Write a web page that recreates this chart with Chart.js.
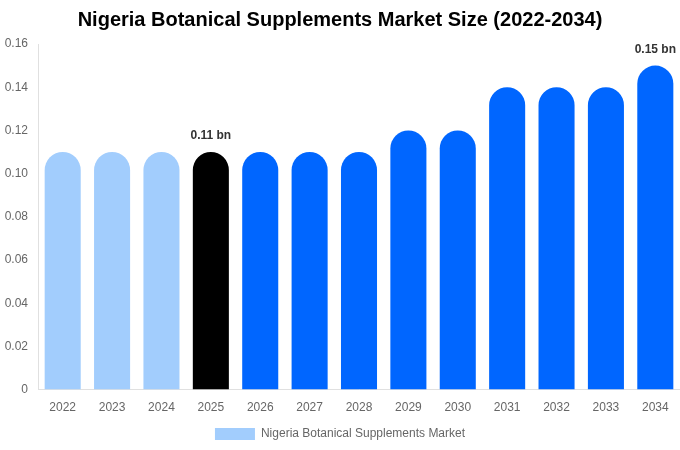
<!DOCTYPE html>
<html>
<head>
<meta charset="utf-8">
<script src="https://cdn.jsdelivr.net/npm/chart.js@4"></script>
<style>
  html, body { margin: 0; padding: 0; background: #fff; }
  #wrap { width: 680px; height: 450px; }
</style>
</head>
<body>
<div id="wrap"><canvas id="chart"></canvas></div>
<script>
// Data
const years = ['2022', '2023', '2024', '2025', '2026', '2027', '2028', '2029', '2030', '2031', '2032', '2033', '2034'];
const marketSize = [0.11, 0.11, 0.11, 0.11, 0.11, 0.11, 0.11, 0.12, 0.12, 0.14, 0.14, 0.14, 0.15];
const labelled = ['2025', '2034'];
const yTicks = [0, 0.02, 0.04, 0.06, 0.08, 0.10, 0.12, 0.14, 0.16];

const LIGHT = '#a2cdfd';
const BASE = '#000000';
const DARK = '#0066ff';

function barColor(year) {
  const y = Number(year);
  if (y < 2025) return LIGHT;
  if (y === 2025) return BASE;
  return DARK;
}

// value labels above selected bars
const valueLabels = {
  id: 'valueLabels',
  afterDatasetsDraw(c) {
    const ctx = c.ctx;
    const meta = c.getDatasetMeta(0);
    ctx.save();
    ctx.font = 'bold 12px "Liberation Sans", Arial, sans-serif';
    ctx.fillStyle = '#333';
    ctx.textAlign = 'center';
    ctx.textBaseline = 'bottom';
    meta.data.forEach((bar, i) => {
      if (!labelled.includes(years[i])) return;
      ctx.fillText(marketSize[i].toFixed(2) + ' bn', bar.x, bar.y - 10);
    });
    ctx.restore();
  }
};

const chart = new Chart(document.getElementById('chart'), {
  type: 'bar',
  data: {
    labels: years,
    datasets: [{
      label: 'Nigeria Botanical Supplements Market',
      data: marketSize,
      backgroundColor: years.map(barColor),
      borderRadius: { topLeft: 20, topRight: 20 },
      borderSkipped: 'bottom',
      categoryPercentage: 1,
      barPercentage: 0.73,
    }],
  },
  options: {
    responsive: true,
    maintainAspectRatio: false,
    animation: false,
    layout: { padding: { left: 0, right: 0, top: 0, bottom: 0 } },
    scales: {
      x: {
        grid: { display: false, drawTicks: false },
        border: { display: true, color: '#e0e0e0' },
        ticks: { color: '#666', font: { family: '"Liberation Sans", Arial, sans-serif', size: 12 }, padding: 11 },
      },
      y: {
        min: 0,
        max: 0.16,
        afterBuildTicks: axis => { axis.ticks = yTicks.map(v => ({ value: v })); },
        afterFit: axis => { axis.width = 38; },
        grid: { display: false, drawTicks: false },
        border: { display: true, color: '#e0e0e0' },
        ticks: {
          color: '#666',
          font: { family: '"Liberation Sans", Arial, sans-serif', size: 12 },
          padding: 10,
          callback: v => v === 0 ? '0' : v.toFixed(2),
        },
      },
    },
    plugins: {
      title: {
        display: true,
        text: 'Nigeria Botanical Supplements Market Size (2022-2034)',
        color: '#000',
        font: { family: '"Liberation Sans", Arial, sans-serif', size: 20, weight: 'bold' },
        padding: { top: 8, bottom: 12 },
      },
      legend: {
        position: 'bottom',
        labels: {
          color: '#666',
          boxWidth: 40,
          boxHeight: 12,
          font: { family: '"Liberation Sans", Arial, sans-serif', size: 12 },
          padding: 2,
        },
      },
      tooltip: { enabled: false },
    },
  },
  plugins: [valueLabels],
});
</script>
</body>
</html>
